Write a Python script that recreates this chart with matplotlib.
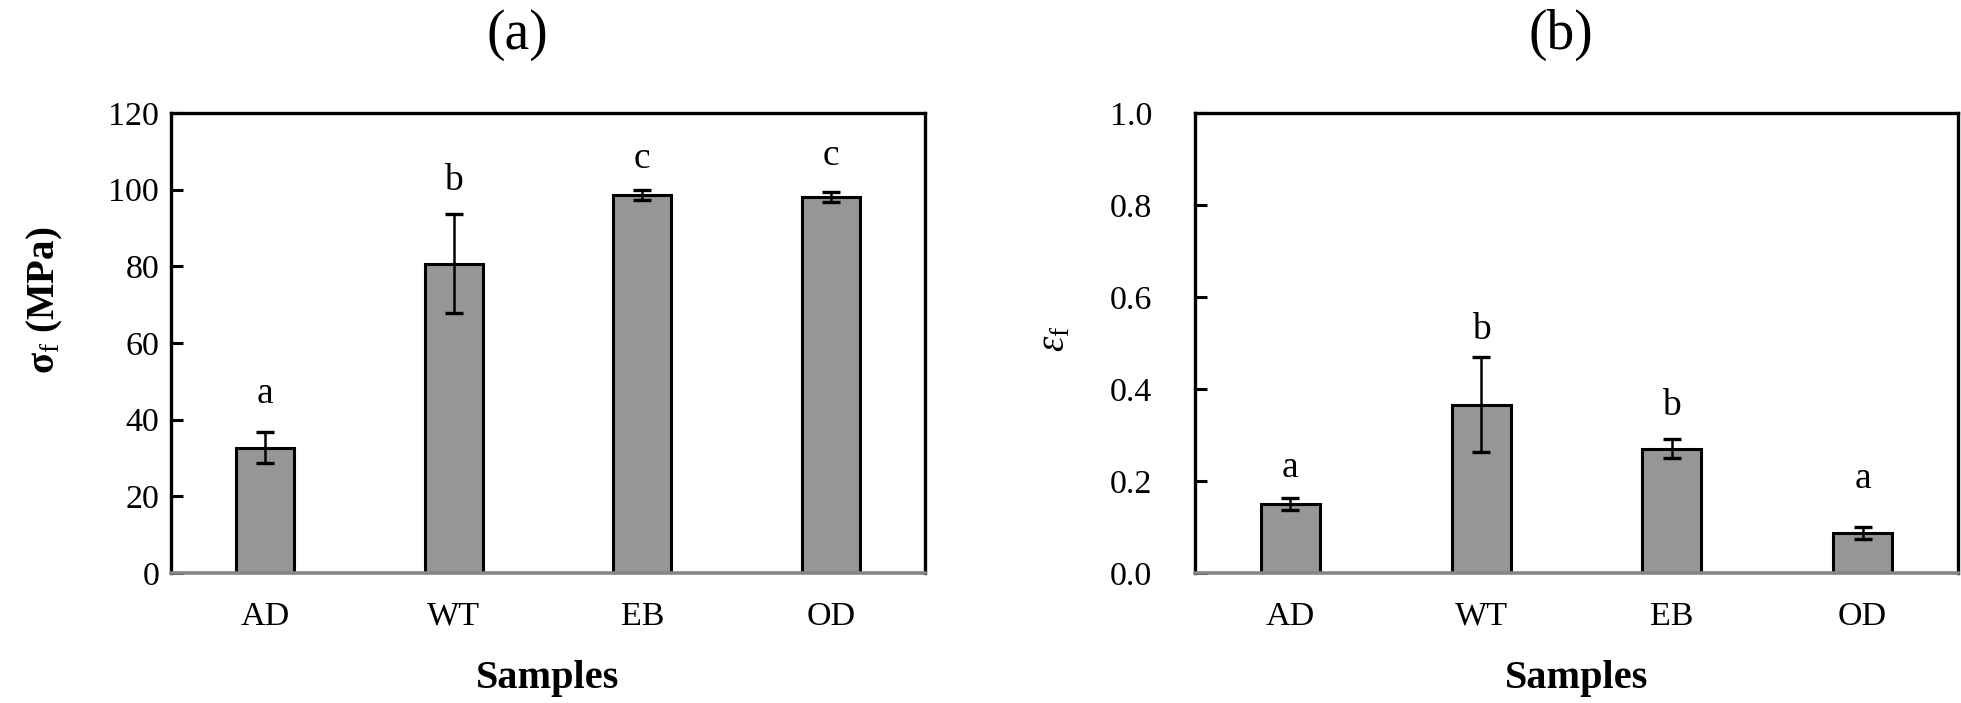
import matplotlib
matplotlib.use("Agg")
import matplotlib.pyplot as plt
import numpy as np

# ---------------- data ----------------
samples = ["AD", "WT", "EB", "OD"]

stress_mean = [32.7, 80.7, 98.6, 98.2]
stress_err = [4.1, 12.9, 1.3, 1.3]
stress_letters = ["a", "b", "c", "c"]
stress_letter_y = [44.3, 100.0, 105.7, 106.5]

strain_mean = [0.150, 0.366, 0.270, 0.087]
strain_err = [0.012, 0.104, 0.021, 0.013]
strain_letters = ["a", "b", "b", "a"]
strain_letter_y = [0.209, 0.509, 0.343, 0.185]

stress_ticks = [0, 20, 40, 60, 80, 100, 120]
strain_ticks = [0.0, 0.2, 0.4, 0.6, 0.8, 1.0]

# ---------------- style ----------------
plt.rcParams["font.family"] = ["Liberation Serif", "DejaVu Serif"]
plt.rcParams["mathtext.fontset"] = "custom"
plt.rcParams["mathtext.rm"] = "Liberation Serif"
plt.rcParams["mathtext.it"] = "Liberation Serif:italic"
plt.rcParams["mathtext.bf"] = "Liberation Serif:bold"

W, H = 1961, 703
fig = plt.figure(figsize=(W / 100, H / 100), dpi=100)

bar_color = "#969696"
axis_gray = "#868686"


def make_panel(rect, means, errs, letters, letter_y, ticks, ylim, fmt, ylabel,
               ylabel_weight, ylabel_pos, ypad):
    ax = fig.add_axes(rect)
    x = np.arange(len(samples))
    ax.bar(x, means, width=0.31, color=bar_color, edgecolor="black",
           linewidth=2.2, zorder=2)
    ax.errorbar(x, means, yerr=errs, fmt="none", ecolor="black",
                elinewidth=1.8, capsize=6.7, capthick=2.4, zorder=3)
    for xi, lt, ly in zip(x, letters, letter_y):
        ax.text(xi, ly, lt, ha="center", va="baseline", fontsize=27, zorder=4)
    ax.set_xlim(-0.5, len(samples) - 0.5)
    ax.set_ylim(*ylim)
    ax.set_yticks(ticks)
    ax.set_yticklabels([fmt.format(t) for t in ticks])
    ax.set_xticks(x)
    ax.set_xticklabels(samples)
    ax.tick_params(axis="y", direction="in", length=8.6, width=2.2, pad=ypad,
                   labelsize=24.5, right=False)
    ax.tick_params(axis="x", length=0, pad=20.5, labelsize=24.5)
    for s in ("top", "left", "right"):
        ax.spines[s].set_linewidth(2.4)
        ax.spines[s].set_color("black")
    ax.spines["bottom"].set_linewidth(2.6)
    ax.spines["bottom"].set_color(axis_gray)
    ax.spines["bottom"].set_zorder(5)
    ax.set_xlabel("Samples", fontsize=29, fontweight="bold", labelpad=20)
    ax.set_ylabel(ylabel, fontsize=28, fontweight=ylabel_weight)
    ax.yaxis.set_label_coords(*ylabel_pos)
    return ax


ax1 = make_panel([171 / W, (H - 573) / H, 754 / W, 460 / H],
                 stress_mean, stress_err, stress_letters, stress_letter_y,
                 stress_ticks, (0, 120), "{:.0f}",
                 r"$\mathbf{\sigma}_{\mathrm{f}}$ (MPa)", "bold", (-0.140, 0.593),
                 8.5)

ax2 = make_panel([1195 / W, (H - 573) / H, 763 / W, 460 / H],
                 strain_mean, strain_err, strain_letters, strain_letter_y,
                 strain_ticks, (0, 1.0), "{:.1f}",
                 r"$\varepsilon_{\mathrm{f}}$", "normal", (-0.159, 0.51),
                 31)

fig.text(517 / W, 1 - 35 / H, "(a)", ha="center", va="center", fontsize=40)
fig.text(1561 / W, 1 - 35 / H, "(b)", ha="center", va="center", fontsize=40)

fig.savefig("out.png", dpi=100, facecolor="white")
